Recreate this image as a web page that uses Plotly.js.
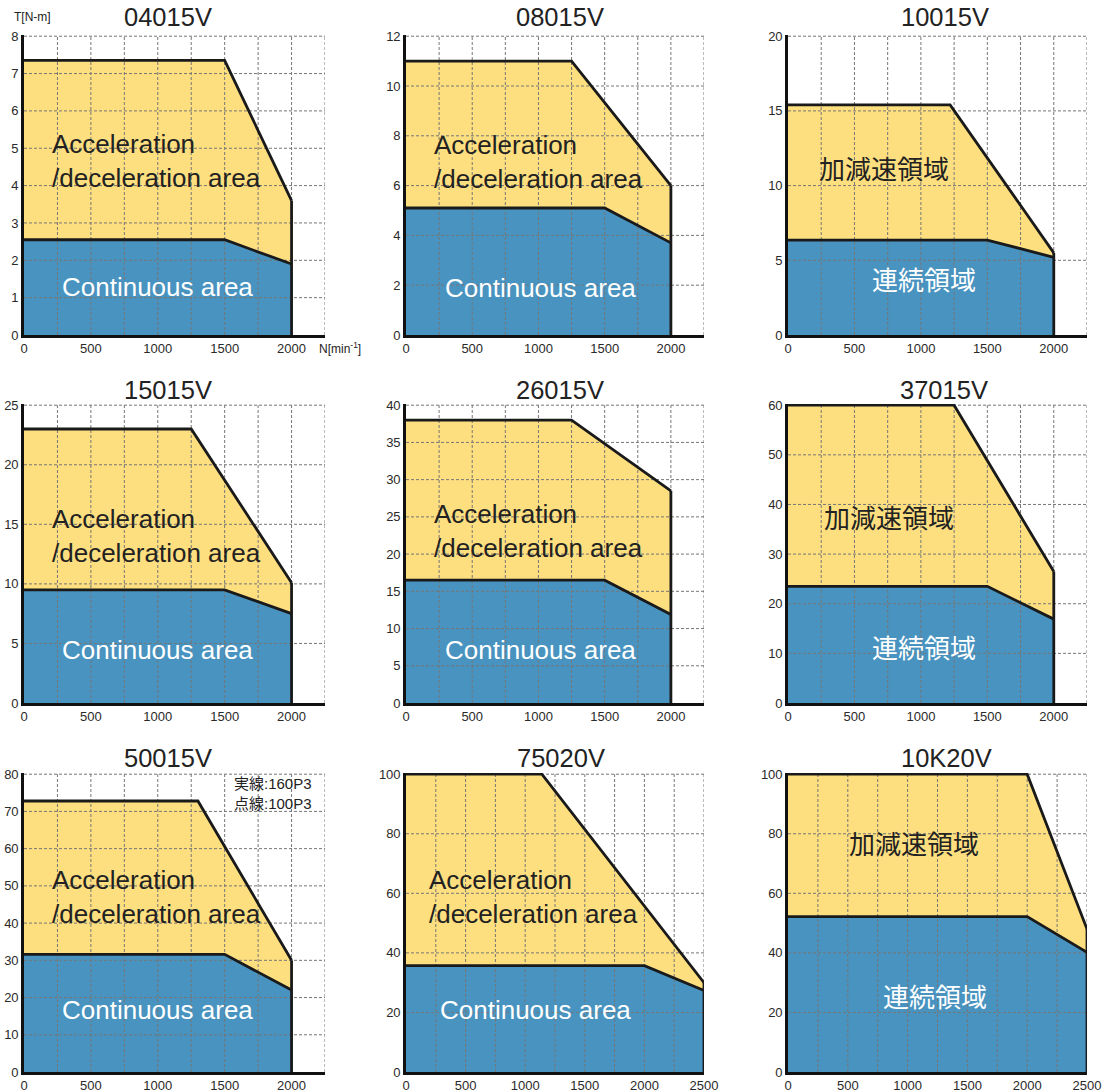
<!DOCTYPE html>
<html>
<head>
<meta charset="utf-8">
<script src="https://cdn.plot.ly/plotly-3.0.1.min.js"></script>
<style>html,body{margin:0;padding:0;background:#fff;}#chart{width:1105px;height:1092px;}</style>
</head>
<body>
<div id="chart"></div>
<script>
// ---- data ----
const models = ['04015V','08015V','10015V','15015V','26015V','37015V','50015V','75020V','10K20V'];
const accelSpeed  = [[0,1500,2000],[0,1250,2000],[0,1220,2000],[0,1250,2000],[0,1250,2000],[0,1250,2000],[0,1300,2000],[0,1140,2500],[0,2000,2500]];
const accelTorque = [[7.35,7.35,3.6],[11,11,6.0],[15.4,15.4,5.5],[23,23,10.1],[38,38,28.5],[60,60,26.5],[72.8,72.8,30],[100,100,30],[100,100,48]];
const contSpeed   = [[0,1500,2000],[0,1500,2000],[0,1500,2000],[0,1500,2000],[0,1500,2000],[0,1500,2000],[0,1500,2000],[0,2000,2500],[0,2000,2500]];
const contTorque  = [[2.55,2.55,1.9],[5.1,5.1,3.7],[6.35,6.35,5.2],[9.5,9.5,7.5],[16.5,16.5,11.9],[23.5,23.5,16.9],[31.6,31.6,22],[35.7,35.7,27.4],[52.2,52.2,40.2]];
const xMax  = [2250,2250,2250,2250,2250,2250,2250,2500,2500];
const yMax  = [8,12,20,25,40,60,80,100,100];
const yStep = [1,2,5,5,5,10,10,20,20];
const xGridStep = 250;
const xLabelStep = 500;
const accelLabel = ['Acceleration<br>/deceleration area','Acceleration<br>/deceleration area','加減速領域',
                    'Acceleration<br>/deceleration area','Acceleration<br>/deceleration area','加減速領域',
                    'Acceleration<br>/deceleration area','Acceleration<br>/deceleration area','加減速領域'];
const contLabel  = ['Continuous area','Continuous area','連続領域',
                    'Continuous area','Continuous area','連続領域',
                    'Continuous area','Continuous area','連続領域'];
const yAxisName = 'T[N-m]';
const xAxisName = 'N[min<sup>-1</sup>]';
const noteText = '実線:160P3<br>点線:100P3';

// ---- layout / style ----
const W = 1105, H = 1092;
const YELLOW = '#FDDF80', BLUE = '#4893C0';
const LATIN = 'Liberation Sans, Arial, Helvetica, sans-serif';
const CJK = '"Noto Sans CJK JP", "Noto Sans CJK SC", sans-serif';
const colsPx = [[24,325],[406,704],[788,1087]];
const rowsPx = [[35,335],[404,703],[773,1072]];
// label positions (fraction of each plot area)
const titleX = [0.478,0.517,0.525,0.48,0.517,0.523,0.48,0.52,0.53];
const titleYpx = [17.5,390,758];
const accelPos = [[0.088,0.58,'left'],[0.086,0.577,'left'],[0.321,0.56,'center'],
                  [0.085,0.557,'left'],[0.088,0.575,'left'],[0.338,0.623,'center'],
                  [0.085,0.585,'left'],[0.07,0.585,'left'],[0.422,0.766,'center']];
const contPos  = [[0.445,0.16],[0.451,0.156],[0.455,0.19],
                  [0.445,0.178],[0.451,0.177],[0.455,0.188],
                  [0.445,0.207],[0.433,0.209],[0.492,0.256]];

const traces = [];
const layout = {
  width: W, height: H,
  margin: {l:0, r:0, t:0, b:0, pad:0},
  paper_bgcolor: '#fff', plot_bgcolor: '#fff',
  showlegend: false,
  annotations: [],
  font: {family: LATIN, color: '#222'}
};

for (let i = 0; i < models.length; i++) {
  const r = Math.floor(i/3), c = i % 3;
  const s = i === 0 ? '' : String(i+1);
  const xa = 'x'+s, ya = 'y'+s;
  const [x0, x1] = colsPx[c], [y0, y1] = rowsPx[r];
  layout['xaxis'+s] = {
    domain: [x0/W, x1/W], range: [0, xMax[i]], anchor: ya,
    showgrid: false, zeroline: false, showline: true, linecolor: '#111', linewidth: 2.8,
    ticks: '', tick0: 0, dtick: xLabelStep,
    tickfont: {family: LATIN, size: 13, color: '#2a2a2a'}, fixedrange: true
  };
  layout['yaxis'+s] = {
    domain: [1 - y1/H, 1 - y0/H], range: [0, yMax[i]*1.004], anchor: xa,
    showgrid: false, zeroline: false, showline: true, linecolor: '#111', linewidth: 2.8,
    ticks: '', tick0: 0, dtick: yStep[i],
    tickfont: {family: LATIN, size: 13, color: '#2a2a2a'}, fixedrange: true
  };

  // fills
  traces.push({x: accelSpeed[i], y: accelTorque[i], xaxis: xa, yaxis: ya, type: 'scatter', mode: 'lines',
    fill: 'tozeroy', fillcolor: YELLOW, line: {width: 0}, hoverinfo: 'skip'});
  traces.push({x: contSpeed[i], y: contTorque[i], xaxis: xa, yaxis: ya, type: 'scatter', mode: 'lines',
    fill: 'tozeroy', fillcolor: BLUE, line: {width: 0}, hoverinfo: 'skip'});

  // dotted grid drawn above the fills
  const gx = [], gy = [];
  for (let v = xGridStep; v <= xMax[i] + 1e-9; v += xGridStep) { gx.push(v, v, null); gy.push(0, yMax[i], null); }
  for (let v = yStep[i]; v <= yMax[i] + 1e-9; v += yStep[i]) { gx.push(0, xMax[i], null); gy.push(v, v, null); }
  traces.push({x: gx, y: gy, xaxis: xa, yaxis: ya, type: 'scatter', mode: 'lines',
    line: {color: '#767676', width: 1, dash: '3px,2px'}, hoverinfo: 'skip', connectgaps: false});

  // outlines
  traces.push({x: accelSpeed[i], y: accelTorque[i], xaxis: xa, yaxis: ya, type: 'scatter', mode: 'lines',
    line: {color: '#1a1a1a', width: 2.8}, hoverinfo: 'skip'});
  traces.push({x: contSpeed[i], y: contTorque[i], xaxis: xa, yaxis: ya, type: 'scatter', mode: 'lines',
    line: {color: '#1a1a1a', width: 2.8}, hoverinfo: 'skip'});
  const last = accelSpeed[i].length - 1;
  traces.push({x: [accelSpeed[i][last], accelSpeed[i][last]], y: [0, accelTorque[i][last]], xaxis: xa, yaxis: ya,
    type: 'scatter', mode: 'lines', line: {color: '#1a1a1a', width: 2.8}, hoverinfo: 'skip'});

  // titles
  const pw = x1 - x0, ph = y1 - y0;
  layout.annotations.push({text: models[i], xref: 'paper', yref: 'paper',
    x: (x0 + titleX[i]*pw)/W, y: 1 - titleYpx[r]/H, xanchor: 'center', yanchor: 'middle',
    showarrow: false, font: {family: LATIN, size: 25.5, color: '#222'}});

  // area labels
  const isJ = /[^\x00-\x7F]/.test(accelLabel[i]);
  const ap = accelPos[i];
  layout.annotations.push({text: accelLabel[i], xref: 'paper', yref: 'paper',
    x: (x0 + ap[0]*pw)/W, y: 1 - (y1 - ap[1]*ph)/H, xanchor: ap[2], yanchor: 'middle', align: 'left',
    showarrow: false, font: {family: isJ ? CJK : LATIN, size: 26, color: '#222'}});
  const cp = contPos[i];
  layout.annotations.push({text: contLabel[i], xref: 'paper', yref: 'paper',
    x: (x0 + cp[0]*pw)/W, y: 1 - (y1 - cp[1]*ph)/H, xanchor: 'center', yanchor: 'middle',
    showarrow: false, font: {family: isJ ? CJK : LATIN, size: 26, color: '#fff'}});
}

// axis names on first panel
layout.annotations.push({text: yAxisName, xref: 'paper', yref: 'paper', x: 12/W, y: 1 - 17.5/H,
  xanchor: 'left', yanchor: 'middle', showarrow: false, font: {family: LATIN, size: 12, color: '#222'}});
layout.annotations.push({text: xAxisName, xref: 'paper', yref: 'paper', x: 317/W, y: 1 - 348/H,
  xanchor: 'left', yanchor: 'middle', showarrow: false, font: {family: LATIN, size: 12, color: '#222'}});
// note on 50015V
layout.annotations.push({text: noteText, xref: 'paper', yref: 'paper', x: 314/W, y: 1 - 793.5/H,
  xanchor: 'right', yanchor: 'middle', align: 'left', showarrow: false,
  font: {family: LATIN + ', ' + CJK, size: 15, color: '#222'}});

Plotly.newPlot('chart', traces, layout, {staticPlot: true, displayModeBar: false});
</script>
</body>
</html>
